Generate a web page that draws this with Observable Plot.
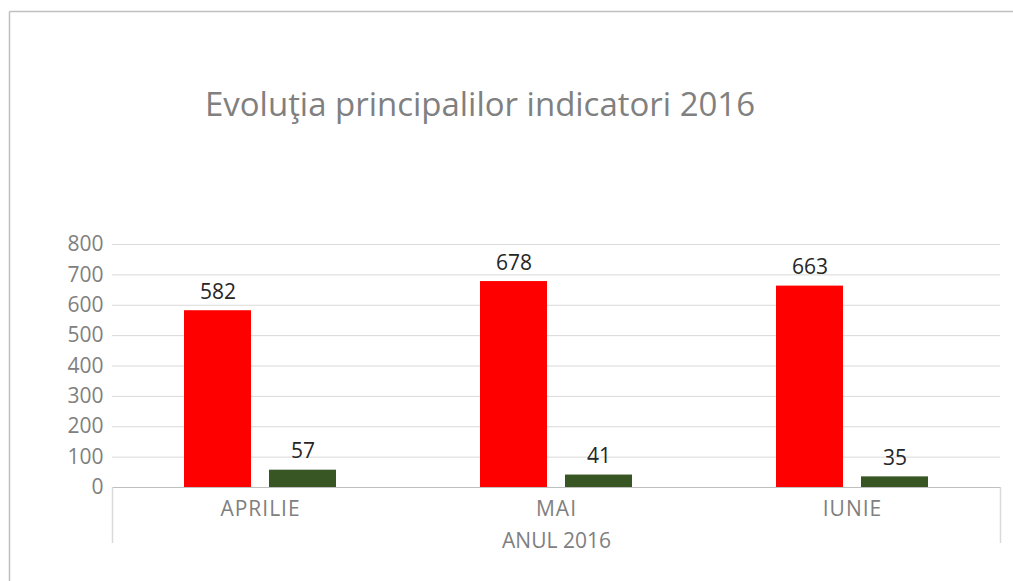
<!DOCTYPE html>
<html>
<head>
<meta charset="utf-8">
<script src="https://cdn.jsdelivr.net/npm/d3@7"></script>
<script src="https://cdn.jsdelivr.net/npm/@observablehq/plot@0.6"></script>
<style>
  html, body { margin: 0; padding: 0; background: #ffffff; }
  #chart { position: absolute; left: 0; top: 0; }
  #chart svg g[aria-label="fx-axis tick label"] text { letter-spacing: 1px; }
</style>
</head>
<body>
<div id="chart"></div>
<script>
const title = "Evoluţia principalilor indicatori 2016";
const months = ["APRILIE", "MAI", "IUNIE"];
const series = ["Indicator 1", "Indicator 2"];
const values1 = [582, 678, 663];
const values2 = [57, 41, 35];
const yTicks = [0, 100, 200, 300, 400, 500, 600, 700, 800];
const axisTitle = "ANUL 2016";
const colors = ["#ff0000", "#375623"];

const data = months.flatMap((m, i) => [
  {month: m, series: series[0], value: values1[i]},
  {month: m, series: series[1], value: values2[i]}
]);

const W = 1013, H = 581;
const mL = 112, mR = 13, mT = 244, mB = 94;

const plot = Plot.plot({
  width: W,
  height: H,
  marginLeft: mL,
  marginRight: mR,
  marginTop: mT,
  marginBottom: mB,
  style: {fontFamily: "'Open Sans', sans-serif", fontSize: "21px", background: "transparent", overflow: "visible"},
  fx: {domain: months, padding: 0},
  x: {domain: series, paddingInner: 0.212, paddingOuter: 0.847, axis: null},
  y: {domain: [0, 800]},
  color: {domain: series, range: colors},
  marks: [
    Plot.gridY(yTicks.filter(t => t > 0), {stroke: "#d9d9d9", strokeOpacity: 1}),
    Plot.ruleY([0], {stroke: "#bfbfbf"}),
    Plot.barY(data, {fx: "month", x: "series", y: "value", fill: "series"}),
    Plot.text(data, {fx: "month", x: "series", y: "value", text: d => String(d.value),
      lineAnchor: "bottom", dy: -12, fill: "#262626", fontSize: 21}),
    Plot.axisY(yTicks, {tickSize: 0, tickPadding: 9, label: null, fill: "#808080", fontSize: 21}),
    Plot.axisFx({anchor: "bottom", tickSize: 0, tickPadding: 14, label: axisTitle,
      labelAnchor: "center", labelOffset: 60, fill: "#808080", fontSize: 21})
  ]
});

document.getElementById("chart").appendChild(plot);

const svg = d3.select(plot);
// outer chart border (top and left visible)
svg.append("line").attr("x1", 9.5).attr("x2", W + 10).attr("y1", 11.5).attr("y2", 11.5)
  .attr("stroke", "#bfbfbf").attr("stroke-width", 1.5);
svg.append("line").attr("x1", 9.5).attr("x2", 9.5).attr("y1", 11.5).attr("y2", H + 10)
  .attr("stroke", "#bfbfbf").attr("stroke-width", 1.5);
// category box side lines
[mL, W - mR].forEach(x => {
  svg.append("line").attr("x1", x + 0.5).attr("x2", x + 0.5)
    .attr("y1", H - mB).attr("y2", H - mB + 56)
    .attr("stroke", "#d9d9d9").attr("stroke-width", 1.5);
});
// title
svg.append("text").text(title)
  .attr("x", 205).attr("y", 116)
  .attr("text-anchor", "start")
  .attr("fill", "#808080")
  .attr("font-family", "'Open Sans', sans-serif")
  .attr("font-size", 32)
  .attr("textLength", 550)
  .attr("lengthAdjust", "spacingAndGlyphs");
</script>
</body>
</html>
